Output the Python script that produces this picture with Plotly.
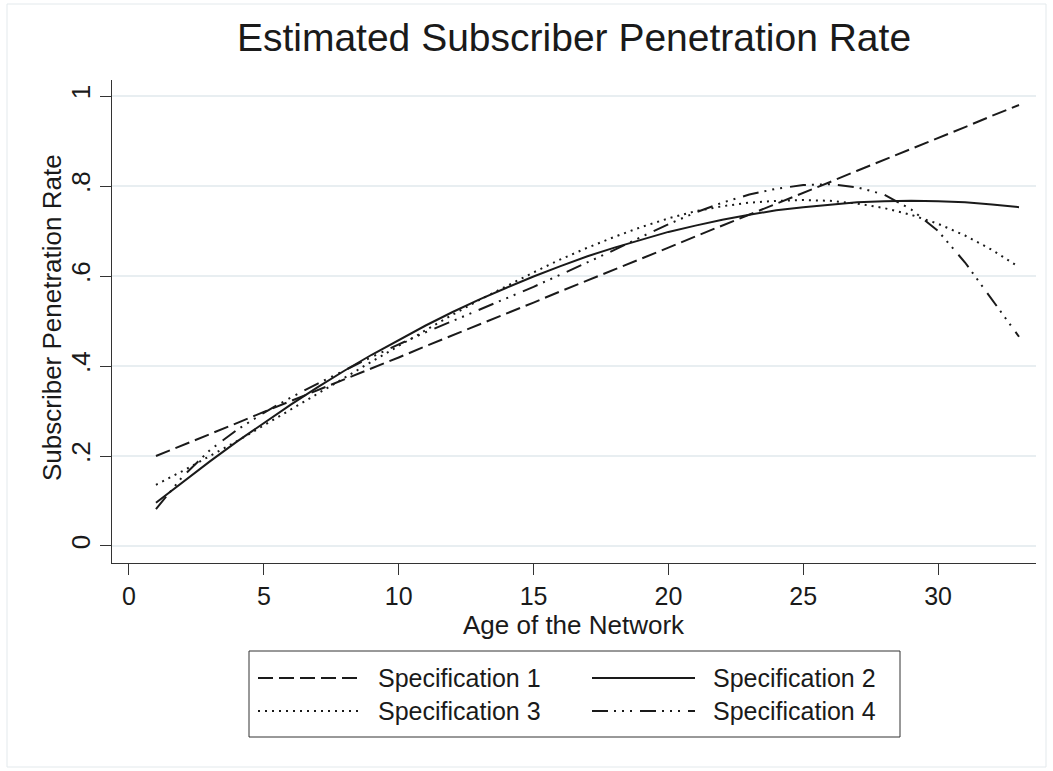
import plotly.graph_objects as go

# ---------------- data ----------------
age = list(range(1, 34))

spec1 = [0.200, 0.224, 0.249, 0.273, 0.298, 0.322, 0.346, 0.371, 0.395, 0.419,
         0.444, 0.468, 0.493, 0.517, 0.541, 0.566, 0.590, 0.614, 0.639, 0.663,
         0.688, 0.712, 0.736, 0.761, 0.785, 0.809, 0.834, 0.858, 0.883, 0.907,
         0.931, 0.956, 0.980]

spec2 = [0.096, 0.143, 0.188, 0.232, 0.274, 0.314, 0.353, 0.390, 0.425, 0.458,
         0.490, 0.520, 0.548, 0.574, 0.599, 0.622, 0.644, 0.663, 0.681, 0.698,
         0.712, 0.725, 0.736, 0.746, 0.753, 0.759, 0.764, 0.766, 0.767, 0.766,
         0.764, 0.759, 0.753]

spec3 = [0.136, 0.167, 0.200, 0.233, 0.268, 0.303, 0.338, 0.374, 0.410, 0.445,
         0.480, 0.514, 0.547, 0.578, 0.608, 0.637, 0.663, 0.687, 0.709, 0.728,
         0.744, 0.755, 0.763, 0.767, 0.769, 0.767, 0.761, 0.751, 0.736, 0.716,
         0.690, 0.658, 0.620]

spec4 = [0.082, 0.155, 0.213, 0.258, 0.296, 0.330, 0.361, 0.391, 0.420, 0.448,
         0.475, 0.500, 0.525, 0.550, 0.576, 0.603, 0.630, 0.658, 0.687, 0.715,
         0.741, 0.763, 0.781, 0.794, 0.802, 0.804, 0.797, 0.781, 0.748, 0.700,
         0.630, 0.548, 0.465]

series_names = ["Specification 1", "Specification 2", "Specification 3", "Specification 4"]

x_ticks = [0, 5, 10, 15, 20, 25, 30]
y_ticks = [0, 0.2, 0.4, 0.6, 0.8, 1.0]
y_tick_text = ["0", ".2", ".4", ".6", ".8", "1"]

title_text = "Estimated Subscriber Penetration Rate"
x_title = "Age of the Network"
y_title = "Subscriber Penetration Rate"

# ---------------- styling ----------------
W, H = 1053, 771
ML, MR, MT, MB = 112, 17, 80, 208
PW, PH = W - ML - MR, H - MT - MB
FONT = "Liberation Sans, Arial, Helvetica, sans-serif"
INK = "#1a1a1a"
LW = 2

dashes = ["15px,6px", "solid", "2px,5px", "16px,6px,2px,6px,2px,6px,2px,8px"]
series = [spec1, spec2, spec3, spec4]


def px(xp):
    return (xp - ML) / PW


def py(yp):
    return (H - MB - yp) / PH


fig = go.Figure()
for name, vals, dash in zip(series_names, series, dashes):
    fig.add_trace(go.Scatter(x=age, y=vals, mode="lines", name=name,
                             line=dict(color=INK, width=LW, dash=dash),
                             showlegend=False))

shapes = []
annotations = []

# outer graph-region frame
shapes.append(dict(type="rect", xref="paper", yref="paper",
                   x0=px(7), x1=px(1046), y0=py(767), y1=py(4),
                   line=dict(color="#e3e9ec", width=1), layer="below"))

# legend box
shapes.append(dict(type="rect", xref="paper", yref="paper",
                   x0=px(249), x1=px(900), y0=py(737), y1=py(651),
                   line=dict(color="#333333", width=1)))

leg_pos = [(258, 360, 376, 678), (592, 695, 711, 678),
           (258, 360, 376, 711), (592, 695, 711, 711)]
for (x0, x1, xt, yc), name, dash in zip(leg_pos, series_names, dashes):
    shapes.append(dict(type="line", xref="paper", yref="paper",
                       x0=px(x0), x1=px(x1), y0=py(yc), y1=py(yc),
                       line=dict(color=INK, width=LW, dash=dash)))
    annotations.append(dict(text=name, xref="paper", yref="paper",
                            x=px(xt), y=py(yc), xanchor="left", yanchor="middle",
                            showarrow=False, font=dict(size=25, color=INK, family=FONT)))

# axis titles
annotations.append(dict(text=x_title, xref="paper", yref="paper",
                        x=0.5, y=py(625), xanchor="center", yanchor="middle",
                        showarrow=False, font=dict(size=26, color=INK, family=FONT)))
annotations.append(dict(text=y_title, xref="paper", yref="paper",
                        x=px(52), y=py(318), xanchor="center", yanchor="middle",
                        textangle=-90, showarrow=False,
                        font=dict(size=26, color=INK, family=FONT)))

fig.update_layout(
    width=W, height=H,
    margin=dict(l=ML, r=MR, t=MT, b=MB),
    paper_bgcolor="white", plot_bgcolor="white",
    font=dict(family=FONT, color=INK, size=26),
    title=dict(text=title_text, x=0.5, xref="paper", xanchor="center",
               y=1 - 37 / H, yref="container", yanchor="middle",
               font=dict(size=39, color=INK, family=FONT)),
    xaxis=dict(range=[-0.63, 33.63], tickvals=x_ticks, showgrid=False, zeroline=False,
               showline=True, linecolor="#333333", linewidth=1,
               ticks="outside", ticklen=11, tickcolor="#333333", tickwidth=1,
               tickfont=dict(size=25, color=INK), automargin=False),
    yaxis=dict(range=[-0.0378, 1.0356], tickvals=y_ticks, ticktext=y_tick_text,
               tickangle=-90, showgrid=True, gridcolor="#e8eef1", gridwidth=2,
               zeroline=False, showline=True, linecolor="#333333", linewidth=1,
               ticks="outside", ticklen=11, tickcolor="#333333", tickwidth=1,
               tickfont=dict(size=26, color=INK), automargin=False),
    shapes=shapes,
    annotations=annotations,
)

fig.write_html("out.html", config={"displayModeBar": False},
               post_script="document.body.style.margin='0px';")
